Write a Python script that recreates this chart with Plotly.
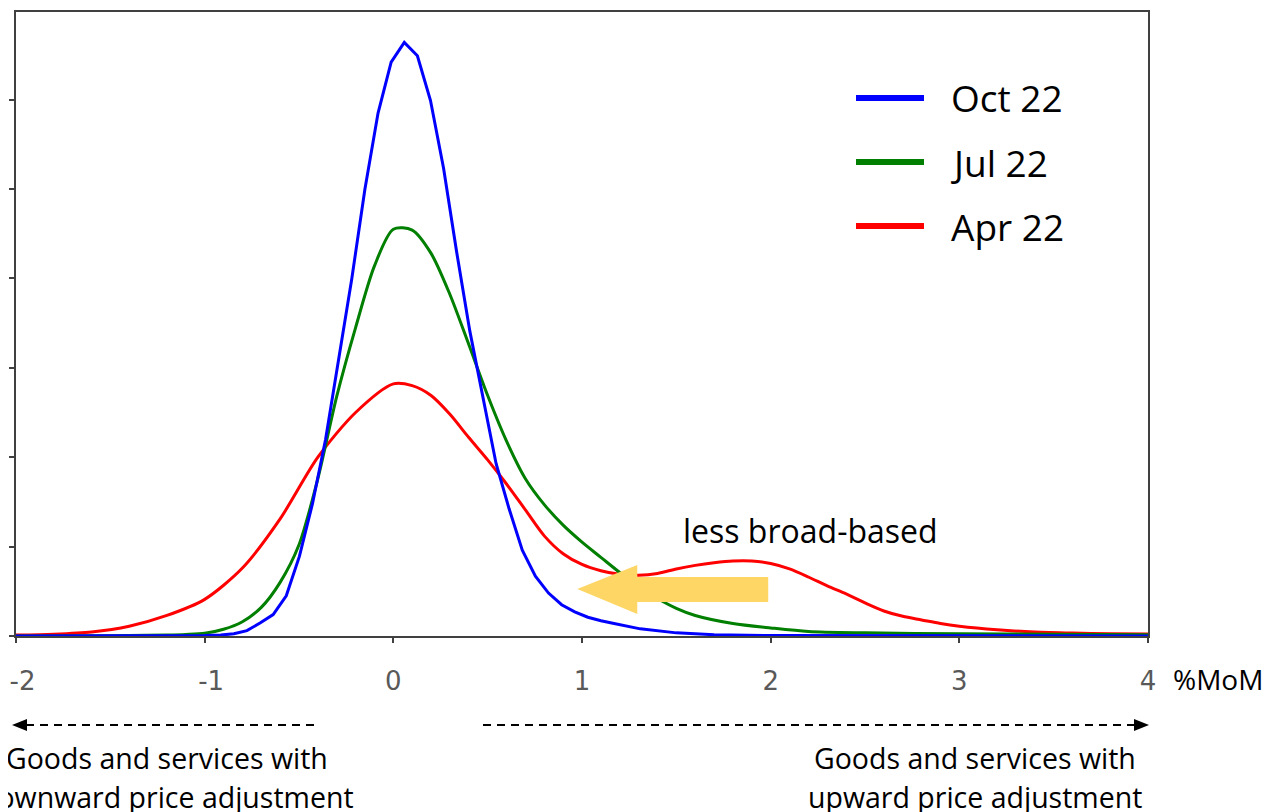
import plotly.graph_objects as go

# ---------------- data ----------------
x_ticks = [-2, -1, 0, 1, 2, 3, 4]
x_tick_text = ["\u2002-2", "\u2002-1", "0", "1", "2", "3", "4"]

oct_x = [-2.0, -1.5, -1.2, -1.0, -0.915, -0.8455, -0.776, -0.7065, -0.637, -0.5675,
         -0.498, -0.4285, -0.359, -0.2895, -0.22, -0.1505, -0.081, -0.0115, 0.058,
         0.1275, 0.197, 0.2665, 0.336, 0.4055, 0.475, 0.5445, 0.614, 0.6835, 0.753,
         0.8225, 0.892, 0.9615, 1.031, 1.1005, 1.17, 1.2395, 1.309, 1.5, 1.7, 2.0,
         2.5, 3.0, 3.5, 4.0]
oct_y = [0.0, 0.0, 0.002, 0.005, 0.01, 0.025, 0.06, 0.145, 0.24, 0.45,
         0.89, 1.48, 2.2, 3.1, 4.0, 5.0, 5.85, 6.42, 6.64,
         6.49, 5.99, 5.23, 4.29, 3.41, 2.68, 1.93, 1.42, 0.96, 0.67,
         0.48, 0.35, 0.27, 0.21, 0.17, 0.14, 0.11, 0.08, 0.035, 0.014, 0.005,
         0.002, 0.0, 0.0, 0.0]

jul_x = [-2.0, -1.6, -1.4, -1.2, -1.1, -1.0, -0.9, -0.8, -0.7, -0.6, -0.5, -0.4, -0.3,
         -0.2, -0.1, 0.0, 0.1, 0.2, 0.3, 0.4, 0.5, 0.6, 0.7, 0.8, 0.9, 1.0, 1.1,
         1.2, 1.3, 1.4, 1.5, 1.6, 1.8, 2.0, 2.2, 2.5, 3.0, 3.5, 4.0]
jul_y = [0.0, 0.003, 0.006, 0.012, 0.018, 0.03, 0.075, 0.16, 0.32, 0.60, 1.02, 1.76, 2.68,
         3.45, 4.14, 4.55, 4.54, 4.28, 3.82, 3.26, 2.69, 2.18, 1.76, 1.47, 1.24, 1.05, 0.88,
         0.71, 0.55, 0.42, 0.31, 0.23, 0.14, 0.09, 0.05, 0.035, 0.025, 0.02, 0.015]

apr_x = [-2.0, -1.8, -1.6, -1.4, -1.2, -1.0, -0.8, -0.6, -0.4, -0.2, 0.0, 0.1, 0.2,
         0.3, 0.4, 0.5, 0.6, 0.7, 0.8, 0.9, 1.0, 1.1, 1.2, 1.3, 1.4, 1.5, 1.6, 1.7,
         1.8, 1.9, 2.0, 2.1, 2.2, 2.3, 2.4, 2.5, 2.6, 2.7, 2.8, 2.9, 3.0, 3.2, 3.4,
         3.6, 3.8, 4.0]
apr_y = [0.01, 0.02, 0.045, 0.11, 0.23, 0.41, 0.76, 1.31, 2.00, 2.50, 2.82, 2.80, 2.69,
         2.48, 2.22, 1.97, 1.70, 1.41, 1.12, 0.92, 0.80, 0.73, 0.69, 0.68, 0.70, 0.75, 0.79, 0.82,
         0.84, 0.84, 0.81, 0.75, 0.66, 0.56, 0.47, 0.37, 0.28, 0.22, 0.18, 0.14, 0.11, 0.07, 0.045,
         0.033, 0.026, 0.022]

series_names = ["Oct 22", "Jul 22", "Apr 22"]
series_colors = ["#0000FF", "#007F00", "#FF0000"]

# ---------------- figure ----------------
fig = go.Figure()
fig.add_trace(go.Scatter(x=apr_x, y=apr_y, mode="lines", name=series_names[2],
                         line=dict(color=series_colors[2], width=3, shape="spline", smoothing=0.8)))
fig.add_trace(go.Scatter(x=jul_x, y=jul_y, mode="lines", name=series_names[1],
                         line=dict(color=series_colors[1], width=3, shape="spline", smoothing=0.8)))
fig.add_trace(go.Scatter(x=oct_x, y=oct_y, mode="lines", name=series_names[0],
                         line=dict(color=series_colors[0], width=3)))

TXT = "Open Sans"
axis_col = "#404040"

fig.update_layout(
    width=1262, height=804,
    margin=dict(l=8, r=122, t=4, b=176, autoexpand=False),
    paper_bgcolor="white", plot_bgcolor="white",
    showlegend=False,
    xaxis=dict(range=[-2, 4], tickvals=x_ticks, ticktext=x_tick_text, automargin=False,
               ticklabeloverflow="allow",
               showgrid=False, zeroline=False, showline=True, mirror=True,
               linecolor=axis_col, linewidth=1.5, ticks="outside", ticklen=5,
               tickcolor=axis_col, tickwidth=1.5, ticklabelstandoff=16,
               tickfont=dict(family="DejaVu Sans", size=26, color="#595959"),
               layer="below traces"),
    yaxis=dict(range=[0, 6.98], dtick=1, tick0=0, showticklabels=False, automargin=False,
               showgrid=False, zeroline=False, showline=True, mirror=True,
               linecolor=axis_col, linewidth=1.5, ticks="outside", ticklen=5,
               tickcolor=axis_col, tickwidth=1.5, layer="below traces"),
)

# screen pixel (reference image) -> paper coordinates
W, H = 1132.0, 624.0
def px2paper(px, py):
    return (px - 16) / W, (636 - py) / H

# yellow block arrow ("less broad-based" shift)
fig.add_shape(type="path", xref="x", yref="y", layer="above",
              path="M 1.987 0.66 L 1.293 0.66 L 1.293 0.794 L 0.975 0.526 "
                   "L 1.293 0.246 L 1.293 0.38 L 1.987 0.38 Z",
              fillcolor="#FDD666", line=dict(width=0))
lx, ly_ = px2paper(810, 530)
fig.add_annotation(x=lx, y=ly_, xref="paper", yref="paper", text="less broad-based",
                   showarrow=False, xanchor="center", yanchor="middle",
                   font=dict(family=TXT, size=32, color="black"))

# custom legend (long thick lines)
legend_y = [98, 162, 226]
for name, col, ly in zip(series_names, series_colors, legend_y):
    x0, y0 = px2paper(856, ly)
    x1, _ = px2paper(924, ly)
    fig.add_shape(type="line", xref="paper", yref="paper", x0=x0, x1=x1, y0=y0, y1=y0,
                  line=dict(color=col, width=6))
    tx, ty = px2paper(949, ly)
    fig.add_annotation(x=tx, y=ty, xref="paper", yref="paper", text=name, showarrow=False,
                       xanchor="left", yanchor="middle",
                       font=dict(family=TXT, size=37, color="black"))

# %MoM axis unit
ux, uy = px2paper(1218, 679)
fig.add_annotation(x=ux, y=uy, xref="paper", yref="paper", text="%MoM", showarrow=False,
                   xanchor="center", yanchor="middle", font=dict(family=TXT, size=28, color="black"))

# dashed direction arrows below axis
ay = 725
lx0, lyp = px2paper(26, ay)
lx1, _ = px2paper(315, ay)
fig.add_shape(type="line", xref="paper", yref="paper", x0=lx0, x1=lx1, y0=lyp, y1=lyp,
              line=dict(color="black", width=2, dash="8px,6px"))
tip = px2paper(12, ay); b1 = px2paper(27, ay - 6); b2 = px2paper(27, ay + 6)
fig.add_shape(type="path", xref="paper", yref="paper",
              path=f"M {tip[0]} {tip[1]} L {b1[0]} {b1[1]} L {b2[0]} {b2[1]} Z",
              fillcolor="black", line=dict(width=0))

rx0, _ = px2paper(483, ay)
rx1, _ = px2paper(1134, ay)
fig.add_shape(type="line", xref="paper", yref="paper", x0=rx0, x1=rx1, y0=lyp, y1=lyp,
              line=dict(color="black", width=2, dash="8px,6px"))
tip = px2paper(1149, ay); b1 = px2paper(1134, ay - 6); b2 = px2paper(1134, ay + 6)
fig.add_shape(type="path", xref="paper", yref="paper",
              path=f"M {tip[0]} {tip[1]} L {b1[0]} {b1[1]} L {b2[0]} {b2[1]} Z",
              fillcolor="black", line=dict(width=0))

# bottom explanatory texts
for cx, lines in [(167, ["Goods and services with", "downward price adjustment"]),
                  (975, ["Goods and services with", "upward price adjustment"])]:
    for i, t in enumerate(lines):
        ax, ayp = px2paper(cx, 758 + 39 * i)
        fig.add_annotation(x=ax, y=ayp, xref="paper", yref="paper", text=t, showarrow=False,
                           xanchor="center", yanchor="middle",
                           font=dict(family=TXT, size=28.5, color="black"))

fig.write_html("out.html")
